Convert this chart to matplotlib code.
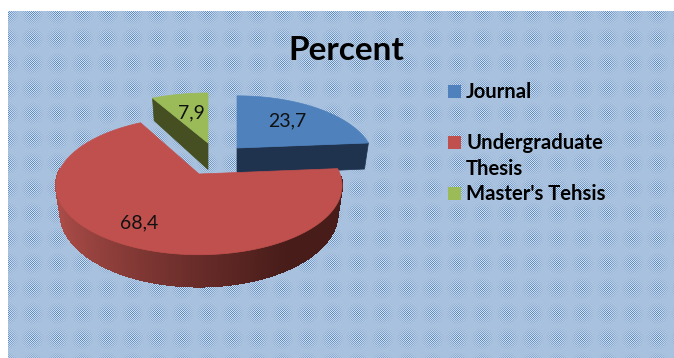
#!/usr/bin/env python3
"""Exploded pseudo-3D pie of publication types on a halftone backdrop."""

import matplotlib
matplotlib.use("Agg")
import matplotlib.pyplot as plt
import numpy as np
from matplotlib.colors import to_rgb
from matplotlib.patches import Polygon, Rectangle

categories = ["Journal", "Undergraduate\nThesis", "Master's Tehsis"]
values = [23.7, 68.4, 7.9]
title = "Percent"

top_colors = ["#4f81bd", "#c0504d", "#9bbb59"]
side_colors = ["#1f334f", "#7a2f2c", "#454f22"]

# per-wedge placement of the apex and the perspective ellipse, in pixels
apex = [(237, 148), (199, 174), (208, 143)]
semi_x = [134, 141, 137]
semi_y = [62.6, 67, 60]
persp = [0.2, 0.17, 0.2]
depth = 26.5
W, H = 674, 358


def halftone(width, height, left, top):
    """Checker dither whose contrast swells into a regular grid of dots."""
    yy, xx = np.mgrid[0:height, 0:width]
    dx = (xx - 7 + 12.5) % 25 - 12.5
    dy = (yy - 13 + 12.5) % 25 - 12.5
    strength = np.clip(1 - np.hypot(dx, dy) / 11.5, 0, 1)
    checker = ((xx + yy) % 2) * 2 - 1
    base = np.array(to_rgb("#a8c1de"))
    dark = np.array(to_rgb("#4f81bd"))
    light = np.array(to_rgb("#dfe9f4"))
    amount = strength[..., None]
    img = np.where(checker[..., None] > 0,
                   base + (light - base) * amount,
                   base + (dark - base) * amount)
    img[:top, :] = 1.0
    img[:, :left] = 1.0
    return img


def project(i, clock_deg, radius=1.0, z=0.0):
    """Map a clockwise-from-top angle on the disc to pixel coordinates."""
    t = np.radians(clock_deg)
    u, v = radius * np.sin(t), radius * np.cos(t)
    w = 1 + persp[i] * v
    x = apex[i][0] + semi_x[i] * u / w * (1 - 0.03 * z)
    y = apex[i][1] - semi_y[i] * v / w + depth * z / w
    return np.column_stack([np.atleast_1d(x), np.atleast_1d(y)])


def draw_cut_face(ax, i, clock_deg, color, zorder):
    p0 = project(i, clock_deg, radius=0.0)
    p1 = project(i, clock_deg)
    p2 = project(i, clock_deg, z=1.0)
    p3 = project(i, clock_deg, radius=0.0, z=1.0)
    ax.add_patch(Polygon(np.vstack([p0, p1, p2, p3]), closed=True, fc=color, ec=color, lw=0.5, zorder=zorder))


def draw_top(ax, i, start, end, zorder):
    arc = np.linspace(start, end, 160)
    pts = np.vstack([project(i, 0.0, radius=0.0), project(i, arc)])
    ax.add_patch(Polygon(pts, closed=True, fc=top_colors[i], ec=top_colors[i], lw=0.5, zorder=zorder))


def draw_rim(ax, i, start, end, zorder):
    """Outer wall, shaded from left to right in thin strips."""
    arc = np.linspace(end, start, 400)
    light = np.array(to_rgb("#ab4c48"))
    dark = np.array(to_rgb("#471c19"))
    # silhouette first so the strip edges stay antialiased on the outside
    outline = np.vstack([project(i, arc), project(i, arc[::-1], z=1.0)])
    ax.add_patch(Polygon(outline, closed=True, fc="#7a2f2c", ec="none", zorder=zorder))
    xs = project(i, arc)[:, 0]
    for a0, a1, x0 in zip(arc[:-1], arc[1:], xs[:-1]):
        f = np.clip((x0 - 60) / 230, 0, 1) ** 0.8
        col = light + (dark - light) * f
        quad = np.vstack([project(i, a0), project(i, a1), project(i, a1, z=1.0), project(i, a0, z=1.0)])
        ax.add_patch(Polygon(quad, closed=True, fc=col, ec=col, lw=0.6, antialiased=False, zorder=zorder))


fig = plt.figure(figsize=(W / 100, H / 100), dpi=100)
ax = fig.add_axes([0, 0, 1, 1])
ax.set_xlim(0, W)
ax.set_ylim(H, 0)
ax.axis("off")
ax.imshow(halftone(W, H, 8, 11), extent=[0, W, H, 0], interpolation="nearest", aspect="auto", zorder=0)

# wedge angles run clockwise from twelve o'clock
total = sum(values)
sweep = [v / total * 360 for v in values]
blue_end = sweep[0]
red_end = blue_end + sweep[1]

# green sits at the back, then blue, with red in front of both
draw_cut_face(ax, 2, red_end, side_colors[2], 2)
draw_top(ax, 2, red_end, 360, 3)

draw_cut_face(ax, 0, blue_end, side_colors[0], 4)
draw_cut_face(ax, 0, 0, side_colors[0], 4)
draw_top(ax, 0, 0, blue_end, 5)

draw_rim(ax, 1, 92, 275, 6)
draw_top(ax, 1, blue_end, red_end, 7)

label_pos = [(287, 121), (139, 223), (191, 113)]
for v, (lx, ly) in zip(values, label_pos):
    ax.text(lx, ly, f"{v}".replace(".", ","), family="Lato", fontsize=14, color="#111111",
            ha="center", va="center", zorder=10)

ax.text(346, 51, title, family="Lato", fontsize=24, fontweight="bold", color="black",
        ha="center", va="center", zorder=10)

legend_y = [91, 142, 193]
for name, c, ly in zip(categories, top_colors, legend_y):
    ax.add_patch(Rectangle((448, ly - 6), 12.5, 12.5, fc=c, ec="none", zorder=10))
    lines = name.split("\n")
    ax.text(466, ly + 1, lines[0], family="Lato", fontsize=14.6, fontweight="bold", color="black",
            ha="left", va="center", zorder=10)
    if len(lines) > 1:
        ax.text(466, ly + 27, lines[1], family="Lato", fontsize=14.6, fontweight="bold", color="black",
                ha="left", va="center", zorder=10)

fig.savefig("out.png", dpi=100)
